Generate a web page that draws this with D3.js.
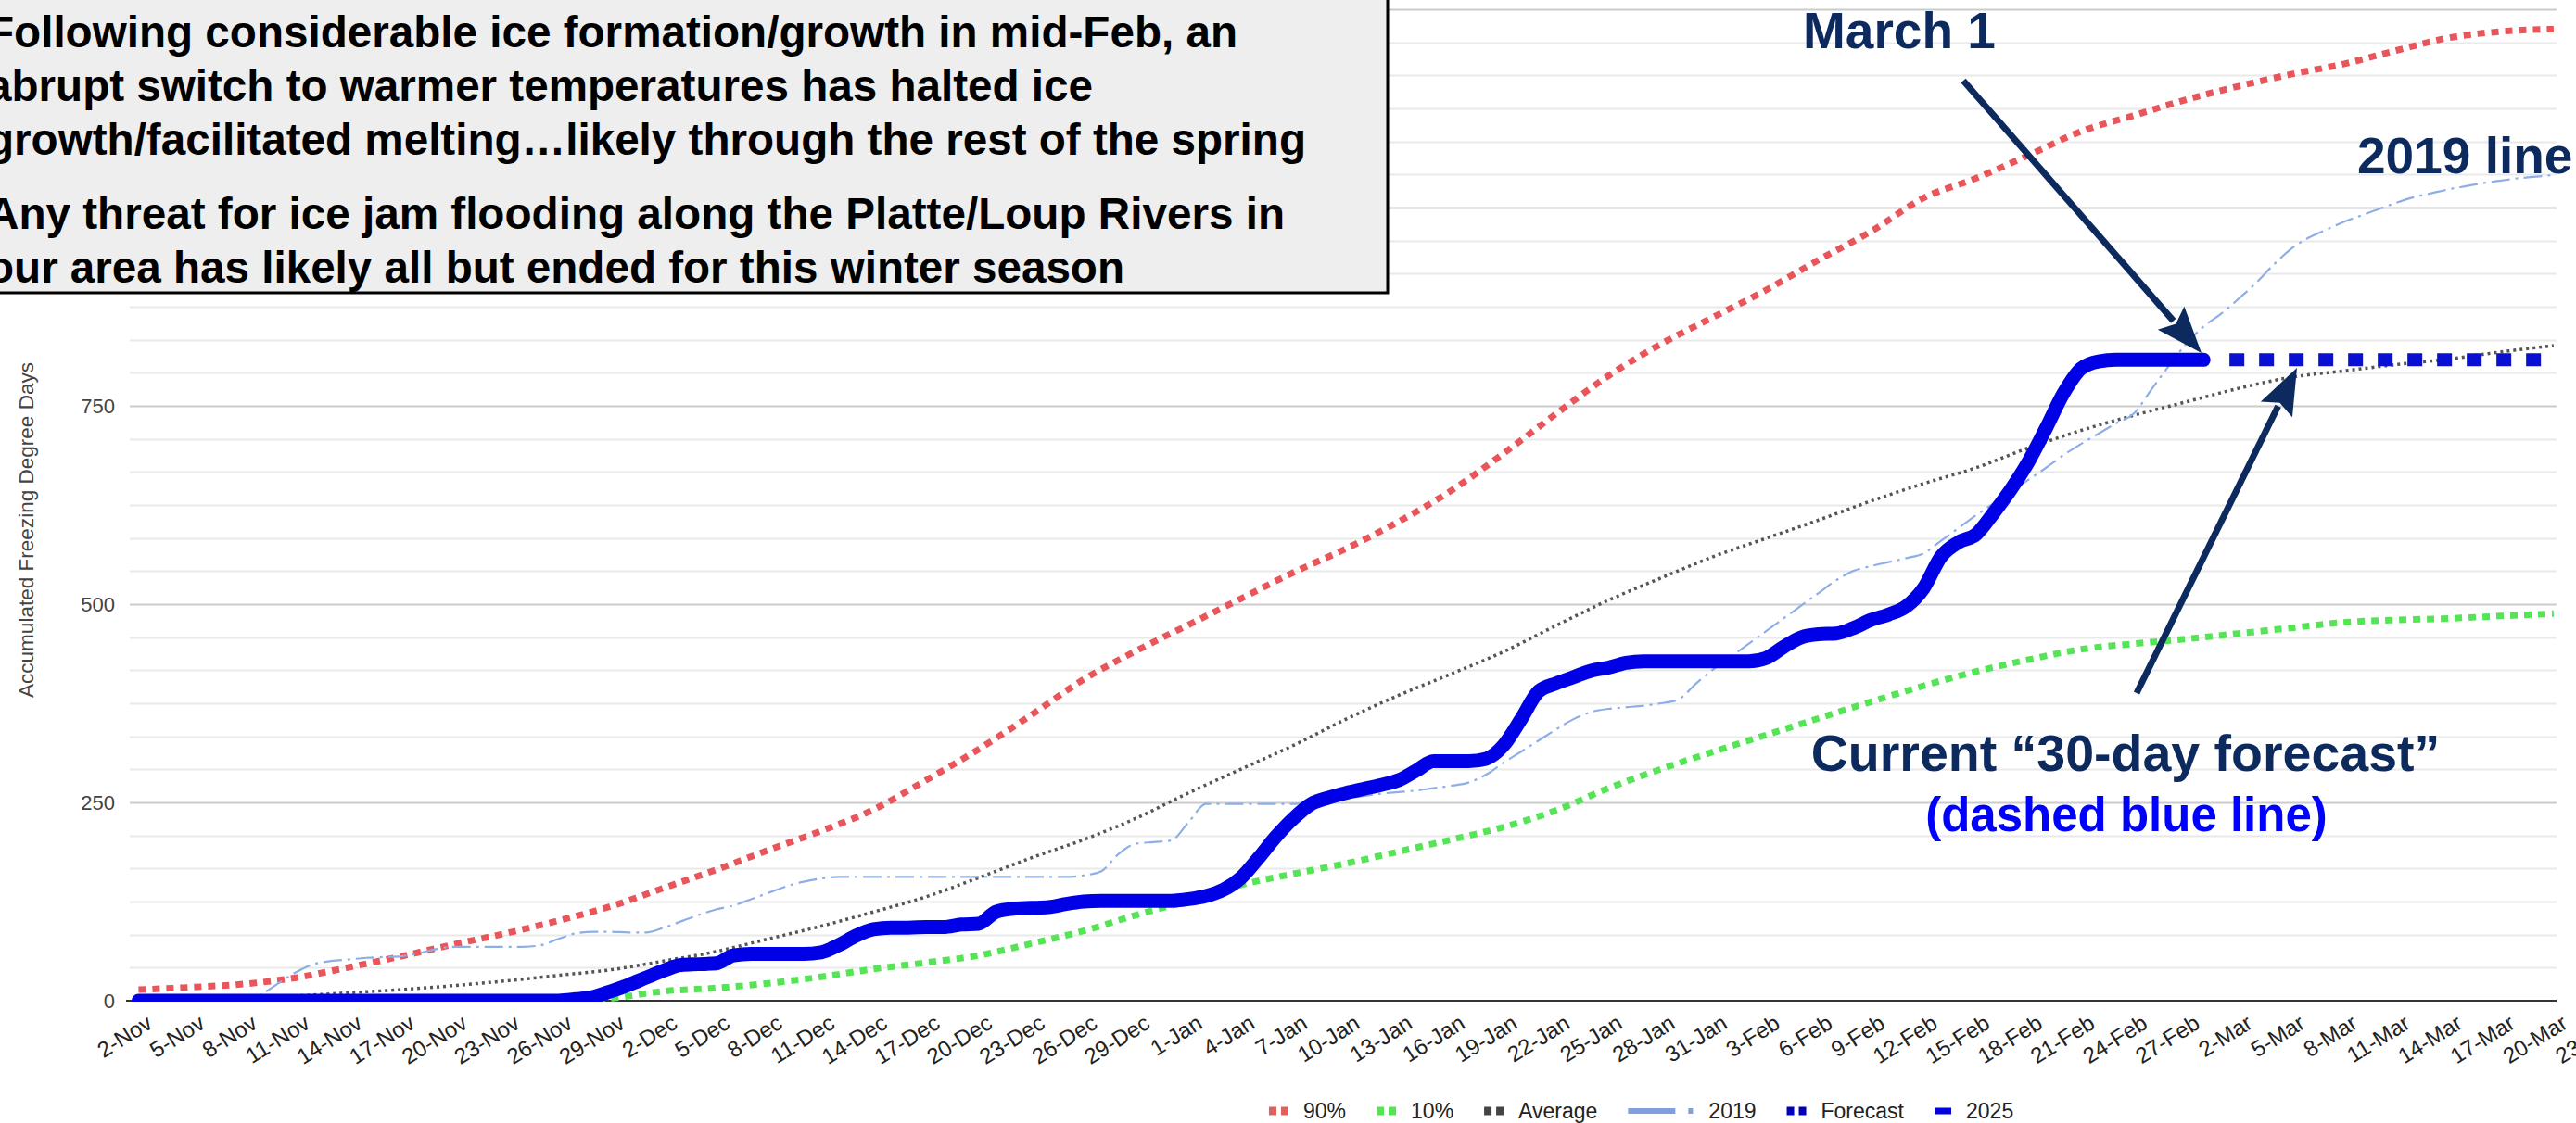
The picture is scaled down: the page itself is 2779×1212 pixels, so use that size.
<!DOCTYPE html>
<html lang="en">
<head>
<meta charset="utf-8">
<title>Accumulated Freezing Degree Days</title>
<script src="https://cdn.jsdelivr.net/npm/d3@7"></script>
<style>
    html, body { margin: 0; padding: 0; background: #ffffff; }
    #vis svg { display: block; }
</style>
</head>
<body>
<div id="vis"></div>
<script>
/*
Accumulated freezing degree days for the 2024-25 winter, with the 2019
season, the 10% / 90% climatology, the average and a flat 30-day forecast.
*/

// Data -----------------------------------------------------------------------

// x axis labels, every third day
const TICK_LABELS = [
    "2-Nov", "5-Nov", "8-Nov", "11-Nov", "14-Nov", "17-Nov", "20-Nov",
    "23-Nov", "26-Nov", "29-Nov", "2-Dec", "5-Dec", "8-Dec", "11-Dec",
    "14-Dec", "17-Dec", "20-Dec", "23-Dec", "26-Dec", "29-Dec", "1-Jan",
    "4-Jan", "7-Jan", "10-Jan", "13-Jan", "16-Jan", "19-Jan", "22-Jan",
    "25-Jan", "28-Jan", "31-Jan", "3-Feb", "6-Feb", "9-Feb", "12-Feb",
    "15-Feb", "18-Feb", "21-Feb", "24-Feb", "27-Feb", "2-Mar", "5-Mar",
    "8-Mar", "11-Mar", "14-Mar", "17-Mar", "20-Mar", "23-Mar"
];

// 1000 and 1250 sit behind the note box
const Y_TICKS = [0, 250, 500, 750];

// Climatology, one value per tick label (2-Nov to 20-Mar)
const P90 = [
    14, 17, 21, 29, 42, 56, 71, 85, 101, 119,
    142, 165, 190, 214, 241, 278, 317, 360, 405, 441,
    474, 507, 540, 570, 604, 643, 690, 740, 788, 828,
    862, 896, 934, 970, 1012, 1037, 1066, 1096, 1116, 1136,
    1153, 1168, 1181, 1198, 1214, 1222, 1225
];

const P10 = [
    0, 0, 0, 0, 0, 0, 0, 0, 0, 3,
    12, 16, 22, 30, 40, 48, 57, 72, 88, 108,
    126, 146, 160, 173, 188, 203, 219, 240, 268, 292,
    314, 335, 356, 377, 397, 415, 430, 443, 450, 456,
    463, 470, 477, 480, 482, 485, 488
];

const AVERAGE = [
    0, 1, 3, 6, 10, 14, 19, 25, 32, 39,
    50, 62, 78, 94, 112, 131, 155, 180, 203, 230,
    262, 292, 322, 355, 385, 412, 440, 473, 505, 533,
    560, 583, 606, 630, 652, 672, 697, 719, 738, 755,
    772, 786, 794, 802, 809, 818, 826
];

// 2019 season, daily from 2-Nov to 20-Mar
const Y2019 = [
    // Nov 2-30
    0, 0, 0, 0, 0, 0, 0, 8, 22, 36, 46, 50, 52, 54, 55, 56, 60, 65, 68, 68,
    68, 68, 68, 70, 78, 85, 87, 87, 86,
    // Dec
    86, 92, 100, 108, 115, 120, 128, 136, 144, 150, 154, 156, 156, 156, 156,
    156, 156, 156, 156, 156, 156, 156, 156, 156, 156, 158, 163, 185, 198, 200,
    202,
    // Jan
    225, 248, 248, 248, 248, 248, 248, 250, 252, 255, 258, 261, 263, 265, 268,
    271, 275, 285, 300, 314, 328, 342, 355, 364, 368, 370, 372, 375, 380, 400,
    418,
    // Feb
    434, 450, 466, 482, 498, 514, 530, 542, 548, 553, 558, 564, 580, 596, 612,
    627, 642, 657, 672, 688, 702, 715, 728, 740, 770, 800, 828, 850,
    // Mar 1-20
    866, 885, 905, 928, 948, 962, 972, 982, 990, 998, 1006, 1013, 1018, 1023,
    1027, 1031, 1034, 1037, 1039, 1041
];

// 2025 season, daily from 2-Nov to 28-Feb
const Y2025 = [
    // Nov 2-30
    0, 0, 0, 0, 0, 0, 0, 0, 0, 0, 0, 0, 0, 0, 0, 0, 0, 0, 0, 0,
    0, 0, 0, 0, 0, 2, 5, 12, 20,
    // Dec
    29, 38, 45, 46, 47, 57, 59, 59, 59, 59, 61, 70, 82, 90, 92, 92, 93, 93,
    96, 97, 112, 116, 117, 118, 122, 125, 126, 126, 126, 126, 126,
    // Jan
    128, 132, 140, 155, 180, 207, 230, 248, 256, 262, 267, 272, 278, 290, 302,
    302, 302, 305, 322, 355, 390, 400, 408, 416, 420, 426, 428, 428, 428, 428,
    428,
    // Feb
    428, 428, 432, 446, 458, 462, 463, 470, 480, 487, 497, 520, 560, 578, 588,
    615, 645, 680, 722, 766, 797, 806, 808, 808, 808, 808, 808, 808
];

// Flat 30-day forecast, daily from 1-Mar to 20-Mar
const FORECAST = [
    808, 808, 808, 808, 808, 808, 808, 808, 808, 808,
    808, 808, 808, 808, 808, 808, 808, 808, 808, 808
];

const NOTE_LINES = [
    ["Following considerable ice formation/growth in mid-Feb, an", 51, 1335],
    ["abrupt switch to warmer temperatures has halted ice", 109, 1179],
    ["growth/facilitated melting\u2026likely through the rest of the spring", 167, 1409],
    ["Any threat for ice jam flooding along the Platte/Loup Rivers in", 247, 1386],
    ["our area has likely all but ended for this winter season", 305, 1213]
];

// Global constants ------------------------------------------------------------

const WIDTH = 2779;
const HEIGHT = 1212;
const FONT = "\"Liberation Sans\", Arial, Helvetica, sans-serif";
const NAVY = "#0c2a5e";
const STEP = 18.88;
const margin = {top: 10, right: 21, bottom: 132, left: 140};

// one category per day, 2-Nov-2024 to 23-Mar-2025
const DAYS = d3.timeDay.range(new Date(2024, 10, 2), new Date(2025, 2, 24))
    .map(d3.timeFormat("%-d-%b"));

const SERIES = [
    {name: "90%", dates: TICK_LABELS, values: P90, color: "#e8555b",
        width: 7, dash: "8,7", cap: "butt"},
    {name: "10%", dates: TICK_LABELS, values: P10, color: "#55e455",
        width: 7, dash: "8,7", cap: "butt"},
    {name: "Average", dates: TICK_LABELS, values: AVERAGE, color: "#555555",
        width: 3.5, dash: "3,4", cap: "butt"},
    {name: "2019", dates: DAYS, values: Y2019, color: "#8eaee6",
        width: 2.2, dash: "20,6,3,6", cap: "butt"},
    {name: "Forecast", dates: DAYS.slice(DAYS.indexOf("1-Mar")), values: FORECAST,
        color: "#0a10d2", width: 14, dash: "16,16", offset: 23, cap: "butt"},
    {name: "2025", dates: DAYS, values: Y2025, color: "#0000e6",
        width: 15, dash: null, cap: "round"}
];

// Functions: Chart setup ------------------------------------------------------

function setup() {

    const svg = d3.select("#vis")
        .append("svg")
        .attr("width", WIDTH)
        .attr("height", HEIGHT)
        .style("font-family", FONT);

    const plotRight = WIDTH - margin.right;
    const plotBottom = HEIGHT - margin.bottom;

    const x = d3.scalePoint()
        .domain(DAYS)
        .range([margin.left + STEP / 2,
            margin.left + STEP / 2 + STEP * (DAYS.length - 1)]);

    const y = d3.scaleLinear()
        .domain([0, 1250])
        .range([plotBottom, margin.top]);

    drawGrid(svg, y, plotRight);
    drawAxes(svg, x, y, plotRight, plotBottom);
    drawSeries(svg, x, y, plotRight, plotBottom);
    drawLegend(svg);
    drawNote(svg);
    drawAnnotations(svg);
}

function drawGrid(svg, y, plotRight) {

    // five minor lines between each labelled value
    const lines = d3.range(0, 31).map(i => ({v: i * 1250 / 30, major: i % 6 === 0}));

    svg.append("g")
        .attr("class", "grid")
        .selectAll("line")
        .data(lines.filter(d => d.v > 0))
        .join("line")
        .attr("x1", margin.left)
        .attr("x2", plotRight)
        .attr("y1", d => Math.round(y(d.v)) + 0.5)
        .attr("y2", d => Math.round(y(d.v)) + 0.5)
        .attr("stroke", d => d.major ? "#cccccc" : "#e9e9e9")
        .attr("stroke-width", 2);
}

function drawAxes(svg, x, y, plotRight, plotBottom) {

    // y axis
    const yaxis = svg.append("g")
        .attr("transform", `translate(${margin.left - 16},0)`)
        .call(d3.axisLeft(y).tickValues(Y_TICKS).tickSize(0).tickPadding(0));

    yaxis.select(".domain").remove();
    yaxis.selectAll("text")
        .attr("font-family", FONT)
        .attr("font-size", 22)
        .attr("fill", "#444444");

    svg.append("text")
        .attr("transform", "translate(36,572) rotate(-90)")
        .attr("text-anchor", "middle")
        .attr("font-size", 21.5)
        .attr("fill", "#444444")
        .attr("textLength", 362)
        .attr("lengthAdjust", "spacingAndGlyphs")
        .text("Accumulated Freezing Degree Days");

    // x axis
    const xaxis = svg.append("g")
        .attr("transform", `translate(0,${plotBottom})`)
        .call(d3.axisBottom(x).tickValues(TICK_LABELS).tickSize(0).tickPadding(0));

    xaxis.select(".domain").remove();
    xaxis.selectAll("text")
        .attr("font-family", FONT)
        .attr("font-size", 24)
        .attr("fill", "#222222")
        .attr("text-anchor", "end")
        .attr("y", 0)
        .attr("dy", "0.71em")
        .attr("transform", "translate(7,14) rotate(-32)");

    svg.append("line")
        .attr("x1", margin.left - 4)
        .attr("x2", plotRight)
        .attr("y1", plotBottom)
        .attr("y2", plotBottom)
        .attr("stroke", "#333333")
        .attr("stroke-width", 2);
}

function drawSeries(svg, x, y, plotRight, plotBottom) {

    svg.append("clipPath")
        .attr("id", "plotclip")
        .append("rect")
        .attr("x", margin.left)
        .attr("y", 0)
        .attr("width", plotRight - margin.left)
        .attr("height", plotBottom + 1);

    const line = d3.line()
        .x(d => x(d.date))
        .y(d => y(d.value))
        .curve(d3.curveMonotoneX);

    const g = svg.append("g")
        .attr("clip-path", "url(#plotclip)");

    SERIES.forEach(s => {
        const pts = s.values.map((v, i) => ({date: s.dates[i], value: v}));
        g.append("path")
            .datum(pts)
            .attr("d", line)
            .attr("fill", "none")
            .attr("stroke", s.color)
            .attr("stroke-width", s.width)
            .attr("stroke-dasharray", s.dash)
            .attr("stroke-dashoffset", s.offset || 0)
            .attr("stroke-linecap", s.cap)
            .attr("stroke-linejoin", "round");
    });
}

function drawLegend(svg) {

    const items = [
        {name: "90%", kind: "dots", color: "#e0605f"},
        {name: "10%", kind: "dots", color: "#55e455"},
        {name: "Average", kind: "dots", color: "#444444"},
        {name: "2019", kind: "dashdot", color: "#7f9fdd"},
        {name: "Forecast", kind: "dots", color: "#0000b4"},
        {name: "2025", kind: "bar", color: "#0000e0"}
    ];

    const legend = svg.append("g")
        .attr("transform", "translate(0,1199)");

    let cx = 1369;
    items.forEach(d => {
        const g = legend.append("g");
        if (d.kind === "dots") {
            [0, 13].forEach(o => g.append("rect")
                .attr("x", cx + o).attr("y", -4.5)
                .attr("width", 8).attr("height", 9)
                .attr("fill", d.color));
            cx += 21;
        } else if (d.kind === "dashdot") {
            g.append("rect")
                .attr("x", cx).attr("y", -3)
                .attr("width", 51).attr("height", 6)
                .attr("fill", d.color);
            g.append("rect")
                .attr("x", cx + 65).attr("y", -3)
                .attr("width", 5).attr("height", 6)
                .attr("fill", d.color);
            cx += 71;
        } else {
            g.append("rect")
                .attr("x", cx).attr("y", -3.5)
                .attr("width", 18).attr("height", 7)
                .attr("fill", d.color);
            cx += 18;
        }
        cx += 16;
        const t = g.append("text")
            .attr("x", cx)
            .attr("y", 8)
            .attr("font-size", 23)
            .attr("fill", "#222222")
            .text(d.name);
        cx += t.node().getComputedTextLength() + 33;
    });
}

function drawNote(svg) {

    const note = svg.append("g");

    note.append("rect")
        .attr("x", -20)
        .attr("y", -20)
        .attr("width", 1517)
        .attr("height", 336)
        .attr("fill", "#eeeeee")
        .attr("stroke", "#000000")
        .attr("stroke-width", 3);

    note.selectAll("text")
        .data(NOTE_LINES)
        .join("text")
        .attr("x", -14)
        .attr("y", d => d[1])
        .attr("font-size", 47.5)
        .attr("font-weight", "bold")
        .attr("fill", "#000000")
        .attr("textLength", d => d[2] + 14)
        .attr("lengthAdjust", "spacingAndGlyphs")
        .text(d => d[0]);
}

function drawAnnotations(svg) {

    const g = svg.append("g")
        .attr("font-weight", "bold");

    const labels = [
        {text: "March 1", x: 1945, y: 52, size: 55, anchor: "start", color: NAVY},
        {text: "2019 line", x: 2543, y: 187, size: 55, anchor: "start", color: NAVY},
        {text: "Current \u201c30-day forecast\u201d", x: 2293, y: 832, size: 55.5,
            anchor: "middle", color: NAVY},
        {text: "(dashed blue line)", x: 2294, y: 897, size: 51, anchor: "middle",
            color: "#0000ff"}
    ];

    g.selectAll("text")
        .data(labels)
        .join("text")
        .attr("x", d => d.x)
        .attr("y", d => d.y)
        .attr("font-size", d => d.size)
        .attr("text-anchor", d => d.anchor)
        .attr("fill", d => d.color)
        .text(d => d.text);

    drawArrow(g, [2118, 87], [2375, 381]);
    drawArrow(g, [2305, 748], [2478, 397]);
}

function drawArrow(g, from, to) {

    const headLen = 50;
    const headHalf = 19;
    const dx = to[0] - from[0];
    const dy = to[1] - from[1];
    const len = Math.hypot(dx, dy);
    const ux = dx / len;
    const uy = dy / len;
    const bx = to[0] - ux * headLen;
    const by = to[1] - uy * headLen;

    g.append("line")
        .attr("x1", from[0])
        .attr("y1", from[1])
        .attr("x2", bx + ux * 4)
        .attr("y2", by + uy * 4)
        .attr("stroke", NAVY)
        .attr("stroke-width", 7);

    g.append("path")
        .attr("d", `M${to[0]},${to[1]}` +
            `L${bx - uy * headHalf},${by + ux * headHalf}` +
            `L${bx + ux * 8},${by + uy * 8}` +
            `L${bx + uy * headHalf},${by - ux * headHalf}Z`)
        .attr("fill", NAVY);
}

// Global execution ------------------------------------------------------------

setup();
</script>
</body>
</html>
